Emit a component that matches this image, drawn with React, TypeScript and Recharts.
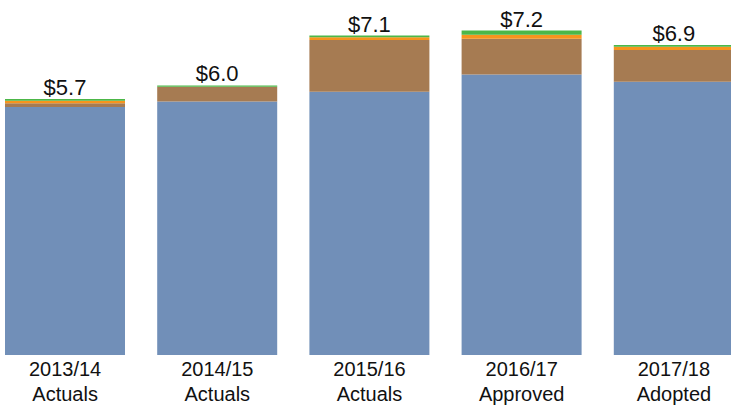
import { BarChart, Bar, XAxis, YAxis, LabelList } from 'recharts';

const years = ['2013/14', '2014/15', '2015/16', '2016/17', '2017/18'];
const stages = ['Actuals', 'Actuals', 'Actuals', 'Approved', 'Adopted'];
const baseValues = [5.52, 5.64, 5.86, 6.24, 6.08];
const brownValues = [0.08, 0.33, 1.15, 0.8, 0.71];
const orangeValues = [0.06, 0.0, 0.06, 0.09, 0.07];
const greenValues = [0.04, 0.03, 0.04, 0.09, 0.04];
const totals = [5.7, 6.0, 7.1, 7.2, 6.9];

const data = years.map((year, i) => ({
  year,
  stage: stages[i],
  base: baseValues[i],
  brown: brownValues[i],
  orange: orangeValues[i],
  green: greenValues[i],
  total: totals[i],
}));

const FONT = 'Arial, "Liberation Sans", sans-serif';

const YearTick = (props: any) => {
  const { x, y, index } = props;
  return (
    <text x={x} y={y} textAnchor="middle" fill="#111" fontSize={20} fontFamily={FONT}>
      <tspan x={x} dy={21}>{years[index]}</tspan>
      <tspan x={x} dy={25}>{stages[index]}</tspan>
    </text>
  );
};

const TotalLabel = (props: any) => {
  const { x, y, width, index } = props;
  return (
    <text
      x={x + width / 2}
      y={y - 4}
      textAnchor="middle"
      fill="#111"
      fontSize={22}
      fontFamily={FONT}
    >
      ${totals[index].toFixed(1)}
    </text>
  );
};

export default function App() {
  return (
    <div style={{ position: 'absolute', left: -11, top: 0 }}>
      <BarChart
        width={761}
        height={406}
        data={data}
        margin={{ top: 18, right: 0, left: 0, bottom: 0 }}
      >
        <XAxis
          dataKey="year"
          axisLine={false}
          tickLine={false}
          tickSize={0}
          tickMargin={0}
          height={51}
          interval={0}
          tick={<YearTick />}
        />
        <YAxis hide domain={[0, 7.5]} />
        <Bar dataKey="base" stackId="a" fill="#718fb8" barSize={120} isAnimationActive={false} />
        <Bar dataKey="brown" stackId="a" fill="#a67b52" barSize={120} isAnimationActive={false} />
        <Bar dataKey="orange" stackId="a" fill="#f7941d" barSize={120} isAnimationActive={false} />
        <Bar dataKey="green" stackId="a" fill="#4cb748" barSize={120} isAnimationActive={false}>
          <LabelList dataKey="total" content={<TotalLabel />} />
        </Bar>
      </BarChart>
    </div>
  );
}
